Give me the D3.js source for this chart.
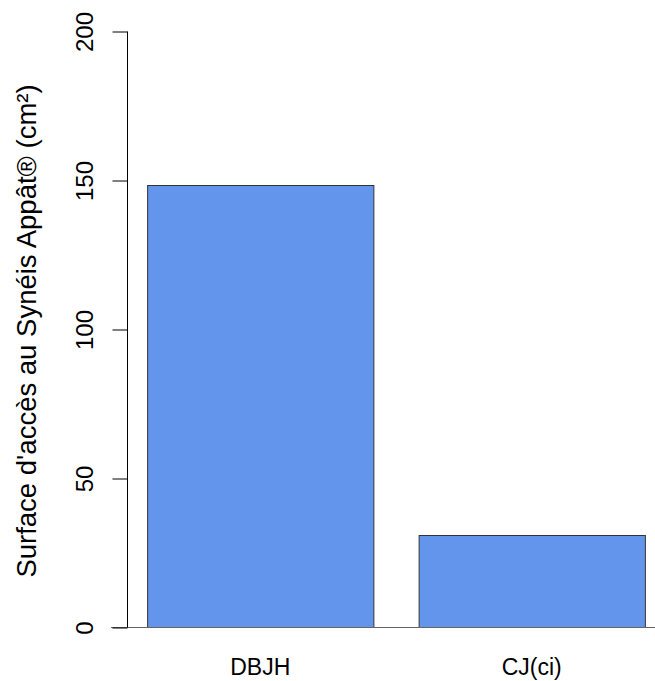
<!DOCTYPE html>
<html><head><meta charset="utf-8">
<script src="https://cdn.jsdelivr.net/npm/d3@7"></script>
<style>body{margin:0;background:#fff}svg{display:block}text{font-family:"Liberation Sans",Arial,sans-serif;fill:#000}</style>
</head><body>
<script>
const categories = ["DBJH", "CJ(ci)"];
const values = [148.2, 31];
const yTicks = [0, 50, 100, 150, 200];
const yTitle = "Surface d'accès au Synéis Appât® (cm²)";

const W = 655, H = 681;
const svg = d3.select("body").append("svg").attr("width", W).attr("height", H);

const y = d3.scaleLinear().domain([0, 200]).range([627, 31]);
const x = d3.scaleBand().domain(categories).range([124.5, 667.5])
  .paddingInner(0.2/1.2).paddingOuter(0.1/1.2);

svg.append("g").selectAll("rect").data(values).join("rect")
  .attr("x", (d,i) => x(categories[i]) + 0.5)
  .attr("y", d => Math.round(y(d)) + 0.5)
  .attr("width", x.bandwidth())
  .attr("height", d => Math.round(y(0)) - Math.round(y(d)))
  .attr("fill", "#6495ED").attr("stroke", "#333").attr("stroke-width", 1);

// baseline
svg.append("line").attr("x1", 111).attr("x2", W).attr("y1", y(0)+0.5).attr("y2", y(0)+0.5)
  .attr("stroke", "#666").attr("stroke-width", 1);

// y axis
const ax = svg.append("g").attr("transform", "translate(127.5,0.5)")
  .call(d3.axisLeft(y).tickValues(yTicks).tickSize(15).tickFormat(d3.format("d")));
ax.attr("font-family", null);
ax.select(".domain").attr("d", `M0,${y(200)}V${y(0)}`).attr("stroke", "#000");
ax.selectAll(".tick line").attr("stroke", "#000");
ax.selectAll(".tick text").attr("font-size", 24).attr("fill", "#000")
  .attr("text-anchor", "middle").attr("x", 0).attr("dy", 0)
  .attr("transform", "translate(-43,0) rotate(-90)")
  .attr("dominant-baseline", "central");

// x labels
svg.append("g").selectAll("text").data(categories).join("text")
  .attr("x", d => x(d) + x.bandwidth()/2)
  .attr("y", 675)
  .attr("text-anchor", "middle").attr("font-size", 23)
  .text(d => d);

// y title
svg.append("text").attr("transform", "translate(36,331) rotate(-90)")
  .attr("text-anchor", "middle").attr("font-size", 27.5).text(yTitle);
</script>
</body></html>
